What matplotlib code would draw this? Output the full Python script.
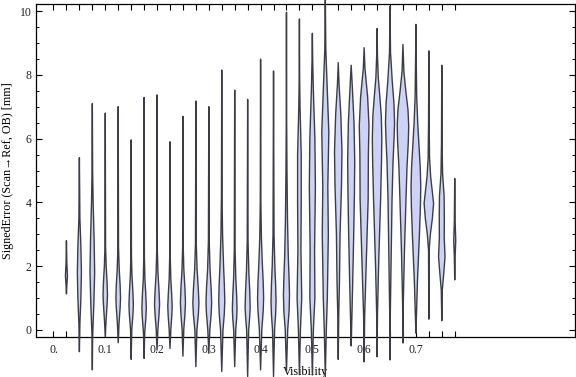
import numpy as np
import matplotlib
matplotlib.use("Agg")
import matplotlib.pyplot as plt

plt.rcParams['font.family'] = ['Liberation Serif', 'DejaVu Serif']

# violin positions (visibility bins)
positions = [0.025, 0.05, 0.075, 0.1, 0.125, 0.15, 0.175, 0.2, 0.225, 0.25,
             0.275, 0.3, 0.325, 0.35, 0.375, 0.4, 0.425, 0.45, 0.475, 0.5,
             0.525, 0.55, 0.575, 0.6, 0.625, 0.65, 0.675, 0.7, 0.725, 0.75, 0.775]

# min / max of each distribution (mm)
mins = [1.13, -0.68, -1.25, -0.21, -0.4, -0.92, -0.89, -0.63, -0.58, -0.82,
        -1.15, -0.73, -1.3, -1.15, -1.46, -1.25, -1.46, -1.3, -1.4, -1.41,
        -1.47, -0.92, -0.5, -1.0, -0.84, -0.94, -0.41, -0.1, 0.34, 0.29, 1.57]
maxs = [2.8, 5.4, 7.1, 6.8, 7.0, 5.96, 7.29, 7.37, 5.9, 6.7,
        7.18, 7.0, 8.15, 7.52, 7.23, 8.49, 8.12, 9.96, 9.75, 9.3,
        10.5, 8.38, 8.3, 8.85, 9.45, 10.15, 8.95, 9.58, 8.75, 8.3, 4.75]

# density profile: (error value, relative density)
profiles = [
    [(1.4, 0.4), (1.7, 1.0), (2.1, 0.4)],
    [(0.2, 0.5), (1.0, 1.5), (1.8, 2.0), (2.6, 1.5), (3.5, 0.5)],
    [(-0.2, 0.3), (0.8, 1.5), (1.8, 2.3), (2.8, 1.8), (4.0, 0.8), (5.0, 0.3)],
    [(0.3, 0.8), (0.8, 1.8), (1.1, 2.2), (1.5, 1.8), (2.0, 0.9), (2.6, 0.3)],
    [(0.2, 0.8), (0.7, 1.9), (1.0, 2.3), (1.4, 1.9), (1.9, 1.0), (2.6, 0.3)],
    [(0.0, 0.6), (0.5, 1.8), (0.8, 2.2), (1.2, 1.7), (1.7, 0.8), (2.3, 0.3)],
    [(-0.1, 0.6), (0.4, 1.8), (0.7, 2.2), (1.1, 1.7), (1.6, 0.8), (2.3, 0.3)],
    [(0.0, 0.8), (0.5, 2.0), (0.8, 2.5), (1.2, 2.0), (1.8, 0.9), (2.5, 0.3)],
    [(0.0, 0.8), (0.45, 1.8), (0.75, 2.2), (1.1, 1.7), (1.6, 0.8), (2.3, 0.3)],
    [(0.0, 0.8), (0.5, 2.0), (0.85, 2.5), (1.3, 2.0), (1.9, 0.9), (2.6, 0.3)],
    [(0.0, 1.0), (0.5, 2.5), (0.85, 3.0), (1.3, 2.4), (1.9, 1.2), (2.7, 0.4)],
    [(0.0, 1.0), (0.5, 2.3), (0.85, 2.8), (1.3, 2.3), (1.9, 1.2), (2.8, 0.4)],
    [(0.0, 1.2), (0.5, 2.5), (0.9, 3.0), (1.4, 2.6), (2.0, 1.8), (3.0, 0.8), (4.2, 0.3)],
    [(0.0, 1.0), (0.35, 1.9), (0.65, 2.3), (1.1, 1.9), (1.6, 1.1), (2.5, 0.4)],
    [(0.0, 1.0), (0.4, 2.0), (0.7, 2.5), (1.2, 2.1), (1.8, 1.2), (2.8, 0.4)],
    [(0.0, 1.2), (0.6, 2.6), (1.0, 3.0), (1.5, 2.6), (2.1, 1.7), (2.9, 0.8), (4.0, 0.3)],
    [(0.0, 1.0), (0.5, 2.1), (0.9, 2.5), (1.4, 2.1), (2.0, 1.3), (3.0, 0.5)],
    [(0.0, 1.2), (0.6, 2.6), (1.1, 3.0), (1.6, 2.6), (2.3, 1.8), (3.5, 1.0), (5.0, 0.5), (6.5, 0.2)],
    [(0.0, 1.0), (1.0, 2.3), (2.5, 1.5), (4.0, 1.8), (5.5, 1.8), (7.0, 0.6), (8.0, 0.2)],
    [(0.0, 1.0), (1.0, 2.5), (2.5, 2.2), (4.5, 3.0), (6.0, 2.5), (7.5, 1.0), (8.5, 0.3)],
    [(0.0, 1.0), (1.0, 2.0), (3.0, 3.0), (4.5, 2.5), (6.2, 3.5), (7.5, 2.0), (8.8, 0.5)],
    [(0.5, 0.5), (1.5, 1.2), (3.0, 1.8), (4.5, 3.2), (5.6, 3.7), (6.8, 2.5), (7.7, 0.8)],
    [(0.3, 0.6), (1.5, 1.5), (3.0, 2.5), (4.3, 3.2), (5.3, 3.5), (6.5, 2.8), (7.7, 1.0)],
    [(0.4, 0.5), (2.0, 2.0), (4.1, 4.0), (5.5, 4.2), (6.4, 4.8), (7.3, 3.5), (8.2, 0.8)],
    [(0.5, 0.4), (2.0, 1.5), (4.1, 3.5), (5.3, 4.4), (6.0, 4.7), (6.7, 4.2), (7.3, 2.8),
     (7.9, 1.2), (8.6, 0.4)],
    [(0.5, 0.3), (2.0, 1.0), (4.1, 2.0), (5.3, 3.0), (6.0, 4.0), (6.5, 4.5), (7.1, 3.9),
     (7.8, 2.2), (8.7, 0.5)],
    [(0.94, 0.4), (2.5, 1.5), (4.1, 3.0), (5.1, 4.0), (5.9, 5.3), (6.4, 5.7), (6.9, 5.0),
     (7.5, 2.8), (8.1, 0.9)],
    [(0.4, 0.5), (1.5, 1.5), (3.0, 3.5), (3.9, 4.5), (4.5, 4.8), (5.1, 4.3), (5.7, 3.2),
     (6.5, 1.8), (7.3, 0.8), (8.5, 0.3)],
    [(2.5, 0.3), (3.0, 1.5), (3.5, 3.5), (3.97, 4.7), (4.4, 3.2), (4.8, 1.8), (5.4, 0.7),
     (6.5, 0.3)],
    [(1.25, 0.5), (1.8, 2.0), (2.3, 3.2), (2.9, 2.4), (3.5, 2.5), (4.2, 2.3), (4.9, 0.8),
     (5.8, 0.3)],
    [(2.3, 0.4), (2.8, 1.0), (3.4, 0.4)],
]

xtick_vals = [0.0, 0.1, 0.2, 0.3, 0.4, 0.5, 0.6, 0.7]
xtick_labels = ["0.", "0.1", "0.2", "0.3", "0.4", "0.5", "0.6", "0.7"]

W_SCALE = 0.00195  # relative density -> half width on the x axis

fig = plt.figure(figsize=(5.76, 3.77), dpi=100)
ax = fig.add_axes([36/576, 1 - 337/377, 539/576, 333/377])

for p, lo, hi, prof in zip(positions, mins, maxs, profiles):
    ys = np.array([lo] + [k[0] for k in prof] + [hi])
    ws = np.array([0.0] + [k[1] for k in prof] + [0.0]) * W_SCALE
    xs = np.concatenate([p + ws, (p - ws)[::-1]])
    yy = np.concatenate([ys, ys[::-1]])
    ax.fill(xs, yy, facecolor='#ccd3f6', edgecolor='#3c3c46', lw=1.0,
            joinstyle='round', clip_on=False, zorder=3)

ax.set_xlim(-0.0338, 1.0073)
ax.set_ylim(-0.22, 10.22)

# ticks
all_ticks = [0.0] + positions
ax.set_xticks(all_ticks)
ax.set_xticklabels([xtick_labels[xtick_vals.index(round(t, 3))] if round(t, 3) in xtick_vals else ""
                    for t in all_ticks])
ax.set_yticks([0, 2, 4, 6, 8, 10])
ax.set_yticks(np.arange(0, 10.5, 0.5), minor=True)
ax.tick_params(axis='x', direction='in', length=4, width=0.8, top=True,
               labelsize=8.5, pad=5, colors='black', labelcolor='#222222')
ax.tick_params(axis='y', which='major', direction='in', length=4.5, width=0.8,
               right=True, labelsize=8.5, pad=3, labelcolor='#222222')
ax.tick_params(axis='y', which='minor', direction='in', length=2.5, width=0.7,
               right=True)
for s in ax.spines.values():
    s.set_linewidth(0.9)

ax.set_xlabel("Visibility", fontsize=8.7, labelpad=7)
ax.set_ylabel("SignedError (Scan\u2192Ref, OB) [mm]", fontsize=8.7, labelpad=4)

fig.savefig("out.png", dpi=100)
